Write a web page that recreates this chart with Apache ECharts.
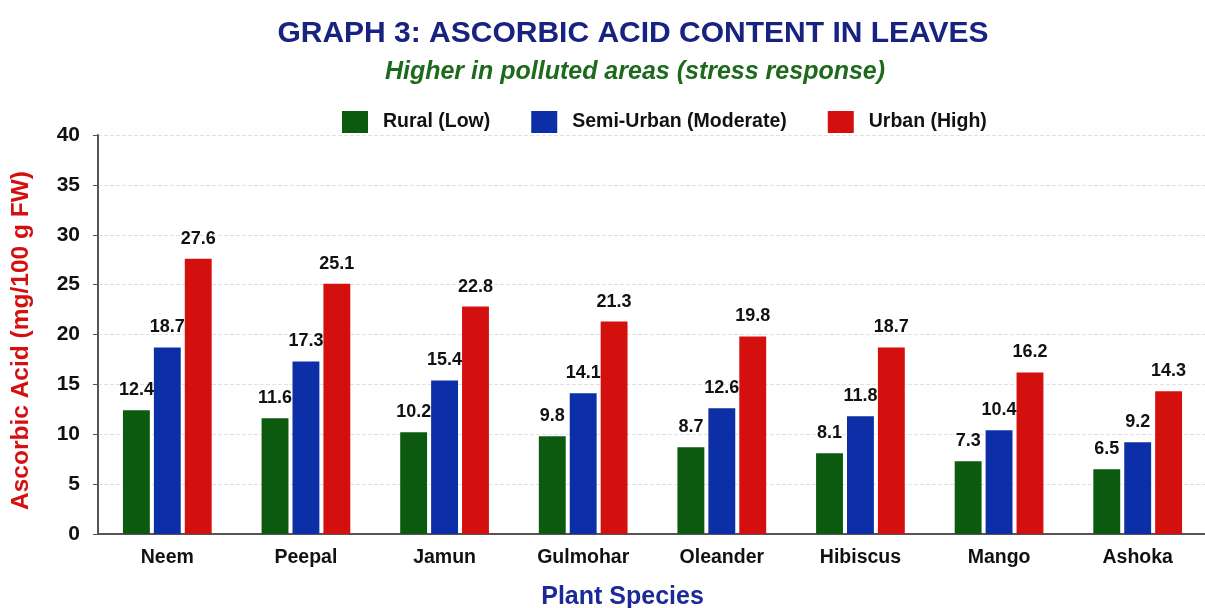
<!DOCTYPE html>
<html>
<head>
<meta charset="utf-8">
<script src="https://cdn.jsdelivr.net/npm/echarts@6/dist/echarts.min.js"></script>
<style>
  html, body { margin: 0; padding: 0; background: #fff; }
  #main { width: 1205px; height: 608px; }
</style>
</head>
<body>
<div id="main"></div>
<script>
// data
var species = ['Neem', 'Peepal', 'Jamun', 'Gulmohar', 'Oleander', 'Hibiscus', 'Mango', 'Ashoka'];
var rural = [12.4, 11.6, 10.2, 9.8, 8.7, 8.1, 7.3, 6.5];
var semiUrban = [18.7, 17.3, 15.4, 14.1, 12.6, 11.8, 10.4, 9.2];
var urban = [27.6, 25.1, 22.8, 21.3, 19.8, 18.7, 16.2, 14.3];
var seriesNames = ['Rural (Low)', 'Semi-Urban (Moderate)', 'Urban (High)'];
var colors = ['#0c5a10', '#0c2ea6', '#d4100f'];

var font = '"Liberation Sans", Arial, sans-serif';

var myChart = echarts.init(document.getElementById('main'));

function bar(name, data, color) {
    return {
        name: name,
        type: 'bar',
        data: data,
        barGap: '15%',
        barCategoryGap: '36%',
        itemStyle: { color: color },
        label: {
            show: true,
            position: 'top',
            distance: 11,
            color: '#111',
            fontFamily: font,
            fontWeight: 'bold',
            fontSize: 18
        }
    };
}

var option = {
    backgroundColor: '#fff',
    color: colors,
    title: [
        {
            text: 'GRAPH 3: ASCORBIC ACID CONTENT IN LEAVES',
            left: 628, top: 14, textAlign: 'center',
            textStyle: { fontFamily: font, fontWeight: 'bold', fontSize: 30, color: '#17237f' }
        },
        {
            text: 'Higher in polluted areas (stress response)',
            left: 630, top: 55, textAlign: 'center',
            textStyle: { fontFamily: font, fontWeight: 'bold', fontStyle: 'italic', fontSize: 25, color: '#1d6a1d' }
        }
    ],
    legend: {
        data: seriesNames,
        top: 106,
        left: 337,
        itemWidth: 26,
        itemHeight: 22,
        itemGap: 41,
        icon: 'rect',
        textStyle: { fontFamily: font, fontWeight: 'bold', fontSize: 19.5, color: '#111', padding: [0, 0, 0, 10] }
    },
    grid: { left: 98, width: 1109, top: 135, bottom: 74, outerBoundsMode: 'none' },
    xAxis: {
        type: 'category',
        data: species,
        axisLine: { lineStyle: { color: '#555', width: 2 } },
        axisTick: { show: false },
        axisLabel: { fontFamily: font, fontWeight: 'bold', fontSize: 19.5, color: '#111', margin: 14 },
        name: 'Plant Species',
        nameLocation: 'middle',
        nameGap: 51,
        nameTextStyle: { fontFamily: font, fontWeight: 'bold', fontSize: 25, color: '#1b2a96', padding: [0, 60, 0, 0] }
    },
    yAxis: {
        type: 'value',
        min: 0, max: 40, interval: 5,
        axisLine: { show: true, lineStyle: { color: '#555', width: 2 } },
        axisTick: { show: true, length: 5, lineStyle: { color: '#555' } },
        axisLabel: { fontFamily: font, fontWeight: 'bold', fontSize: 21, color: '#111', margin: 18 },
        splitLine: { lineStyle: { color: '#e2e2e2', type: 'dashed' } },
        name: 'Ascorbic Acid (mg/100 g FW)',
        nameLocation: 'middle',
        nameGap: 64,
        nameTextStyle: { fontFamily: font, fontWeight: 'bold', fontSize: 24.5, color: '#d4100f', padding: [0, 12, 0, 0] }
    },
    series: [
        bar(seriesNames[0], rural, colors[0]),
        bar(seriesNames[1], semiUrban, colors[1]),
        bar(seriesNames[2], urban, colors[2])
    ]
};

myChart.setOption(option);
window.onresize = myChart.resize;
</script>
</body>
</html>
